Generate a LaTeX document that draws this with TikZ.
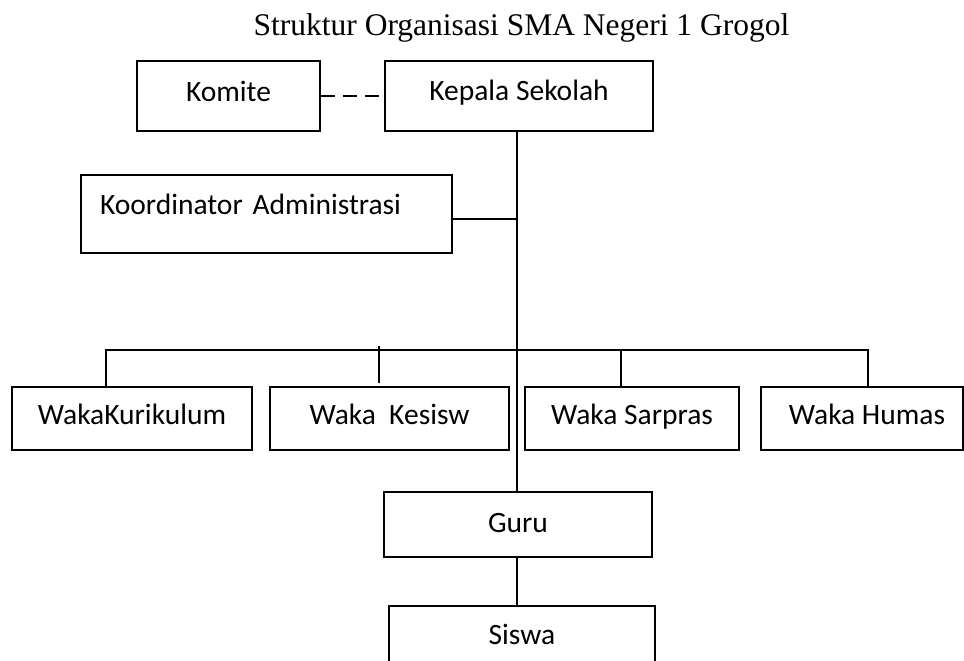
\documentclass[tikz,border=0pt]{standalone}
\usepackage{fontspec}
\setmainfont{Liberation Serif}
\newfontfamily\boxfont{Carlito}

\begin{document}
\begin{tikzpicture}[x = 1pt, y = -1pt,
    unit/.style = {draw, line width=1.8pt, inner sep=0pt, text height=23pt, text depth=11pt,
        font=\boxfont\fontsize{29.5}{34}\selectfont},
    link/.style = {line width=1.5pt}]
    \useasboundingbox (0,0) rectangle (964,661);
    \clip (0,0) rectangle (964,661);
    \node[anchor=base, font=\fontsize{31.5}{36}\selectfont] (title) at (521.5,36) {Struktur Organisasi SMA Negeri 1 Grogol};
    \node[unit, minimum width=183, minimum height=70, text height=21pt] (komite) at (228.5,96) {Komite};
    \node[unit, minimum width=268, minimum height=70, text height=20pt] (kepala) at (519,96) {Kepala Sekolah};
    \node[unit, minimum width=371, minimum height=78, text width=333, inner xsep=19pt, align=left,
        text height=11pt, text depth=11pt] (koord) at (266.5,214) {Koordinator Administrasi};
    \node[unit, minimum width=240, minimum height=63] (kuri) at (132,418.5) {WakaKurikulum\hspace{12pt}};
    \node[unit, minimum width=239, minimum height=63] (kesisw) at (389.5,418.5) {Waka\ \ Kesisw};
    \node[unit, minimum width=214, minimum height=63] (sarpras) at (632,418.5) {Waka Sarpras};
    \node[unit, minimum width=202, minimum height=63] (humas) at (862,418.5) {\hspace{10pt}Waka Humas};
    \node[unit, minimum width=268, minimum height=65, text height=26pt] (guru) at (518,524.5) {Guru};
    \node[unit, minimum width=266, minimum height=65] (siswa) at (522,638.5) {Siswa};
    \coordinate (trunk) at (517,350);
    \draw[link, dash pattern=on 14pt off 8pt]
    (komite.east) -- (kepala.west);
    \draw[link]
    (kepala.south -| trunk) -- (guru.north -| trunk)
    ([yshift=-5pt]koord.east) -- ([yshift=-5pt]koord.east -| trunk)
    ([xshift=-26pt]kuri.north) |- (trunk) -| ([xshift=6pt]humas.north)
    ([xshift=-11pt]sarpras.north) -- ([xshift=-11pt]sarpras.north |- trunk)
    ([xshift=-10.5pt, yshift=3pt]kesisw.north) -- ++(0,-37)
    (guru.south -| trunk) -- (siswa.north -| trunk);
\end{tikzpicture}
\end{document}
